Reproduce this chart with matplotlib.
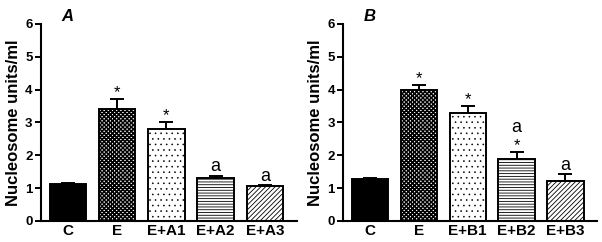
import matplotlib
matplotlib.use("Agg")
import matplotlib.pyplot as plt
import numpy as np

plt.rcParams['font.family'] = ['Liberation Sans', 'DejaVu Sans']

cats_a = ["C", "E", "E+A1", "E+A2", "E+A3"]
vals_a = [1.12, 3.40, 2.80, 1.30, 1.05]
errs_a = [0.05, 0.30, 0.20, 0.07, 0.03]
marks_a = ["", "*", "*", "a", "a"]

cats_b = ["C", "E", "E+B1", "E+B2", "E+B3"]
vals_b = [1.27, 4.00, 3.30, 1.90, 1.22]
errs_b = [0.04, 0.13, 0.20, 0.20, 0.20]
marks_b = ["", "*", "*", "a*", "a"]

hatches = [None, "xxxxxxxx", "...", "------", "///////"]
hatch_lw = [0.5, 1.1, 0.4, 0.6, 0.6]
faces = ["black", "white", "white", "white", "white"]

fig = plt.figure(figsize=(6.02, 2.42), dpi=100)
ax1 = fig.add_axes([0.068, 0.087, 0.425, 0.814])
ax2 = fig.add_axes([0.570, 0.087, 0.422, 0.814])

def draw(ax, cats, vals, errs, marks, label):
    x = np.arange(len(cats))
    for i in range(len(cats)):
        with plt.rc_context({'hatch.linewidth': hatch_lw[i]}):
            ax.bar(x[i], vals[i], width=0.74, color=faces[i], edgecolor="black",
                   linewidth=1.4, hatch=hatches[i], zorder=2)
    ax.errorbar(x, vals, yerr=[np.zeros(len(vals)), errs], fmt="none",
                ecolor="black", elinewidth=1.4, capsize=5, capthick=1.4, zorder=3)
    for i, m in enumerate(marks):
        if not m:
            continue
        top = vals[i] + errs[i]
        if "*" in m:
            ax.text(x[i], top - 0.02, "*", ha="center", va="bottom", fontsize=12)
        if "a" in m:
            off = 0.5 if "*" in m else 0.02
            ax.text(x[i], top + off, "a", ha="center", va="bottom", fontsize=13)
    ax.set_xlim(-0.55, 4.65)
    ax.set_ylim(0, 6)
    ax.set_yticks([0, 1, 2, 3, 4, 5, 6])
    ax.set_xticks(x)
    ax.set_xticklabels(cats, fontsize=11, fontweight="bold")
    for t in ax.get_yticklabels():
        t.set_fontweight("bold")
        t.set_fontsize(9.5)
    ax.tick_params(axis="x", length=0, pad=2)
    ax.tick_params(axis="y", length=4, width=1.4, pad=2)
    for s in ["top", "right"]:
        ax.spines[s].set_visible(False)
    for s in ["left", "bottom"]:
        ax.spines[s].set_linewidth(1.5)
    ax.set_ylabel("Nucleosome units/ml", fontsize=12, fontweight="bold", labelpad=3)
    ax.text(0.08, 1.0, label, transform=ax.transAxes, fontsize=12,
            fontweight="bold", fontstyle="italic", ha="left", va="bottom")

draw(ax1, cats_a, vals_a, errs_a, marks_a, "A")
draw(ax2, cats_b, vals_b, errs_b, marks_b, "B")

fig.savefig("out.png", dpi=100)
